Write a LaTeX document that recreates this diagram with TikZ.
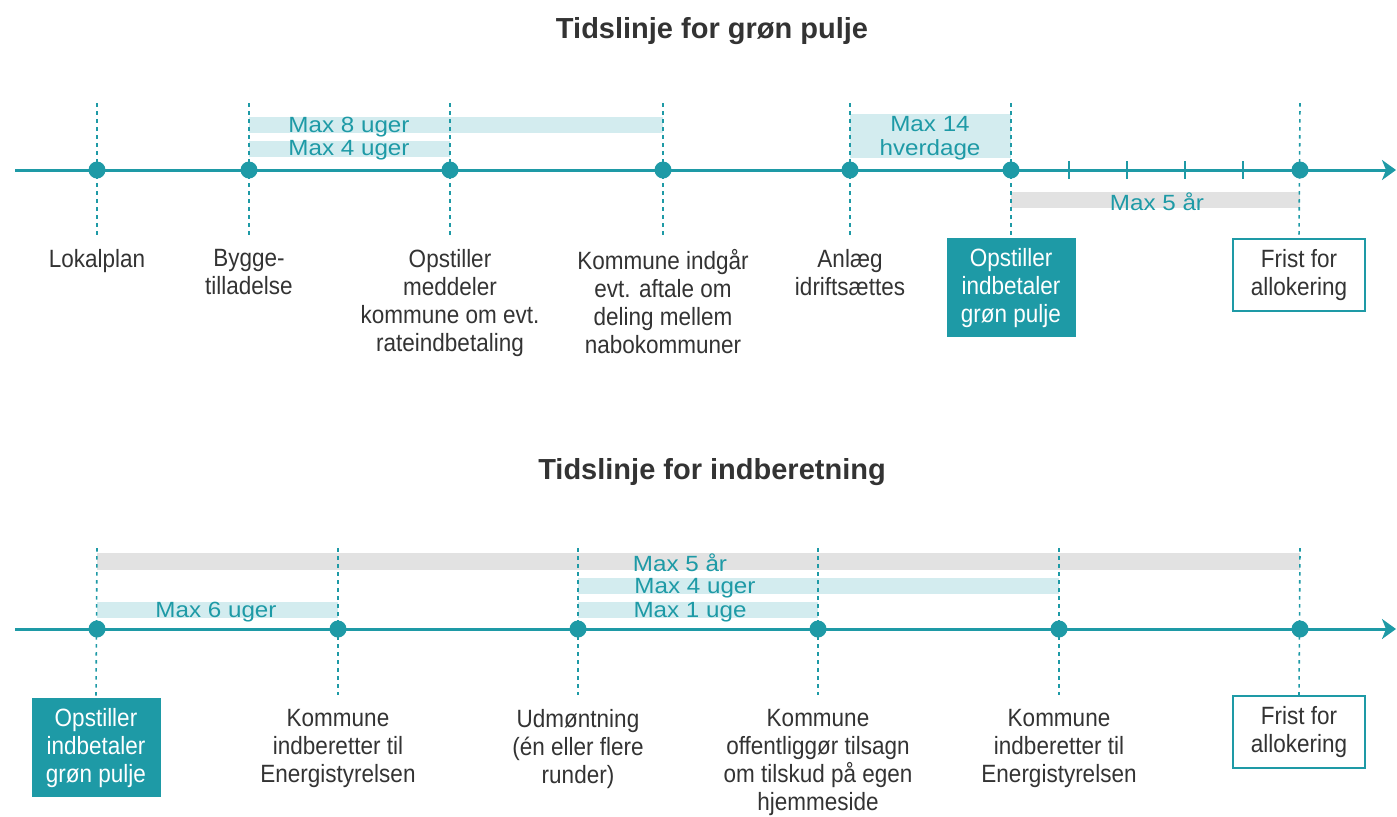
\documentclass[tikz,border=0pt]{standalone}
\usepackage{fontspec}
\setmainfont{Liberation Sans}
\newfontfamily\condfont[FakeStretch=0.9]{Liberation Sans}
\newfontfamily\widefont[FakeStretch=1.1]{Liberation Sans}
\usetikzlibrary{arrows.meta,positioning}
\definecolor{tlteal}{HTML}{1E9AA6}
\definecolor{tlbar}{HTML}{D3ECEF}
\definecolor{tlgray}{HTML}{E2E2E2}
\definecolor{tltext}{HTML}{333333}
\tikzset{
	x=0.5pt, y=-0.5pt,
	axis/.style ={draw=tlteal, line width=1.5pt, -{Stealth[length=7pt,width=10pt,inset=2pt]}},
	guide/.style ={draw=tlteal, line width=0.8pt, dash pattern=on 1.8pt off 2.2pt},
	dot/.style = {circle, fill=tlteal, inner sep=0pt, minimum size=8.5pt},
	yeartick/.style = {draw=tlteal, line width=0.9pt},
	span/.style = {fill=tlbar},
	longspan/.style = {fill=tlgray},
	spanlabel/.style = {text=tlteal, font=\widefont\fontsize{11}{12}\selectfont, inner sep=0pt, align=center},
	event/.style = {text=tltext, font=\condfont\fontsize{12.5}{14}\selectfont, inner sep=0pt, align=center, anchor=north},
	paybox/.style = {fill=tlteal, text=white, font=\condfont\fontsize{12.5}{14}\selectfont, align=center, inner sep=0pt, minimum width=64.5pt, minimum height=49.5pt, anchor=north},
	deadline/.style = {draw=tlteal, line width=1pt, fill=white, text=tltext, font=\condfont\fontsize{12.5}{14}\selectfont, align=center, inner sep=0pt, minimum width=66pt, minimum height=36pt, anchor=north},
	heading/.style = {text=tltext, font=\bfseries\fontsize{14.5}{18}\selectfont}
}
\begin{document}
\begin{tikzpicture}
    \useasboundingbox (0,0) rectangle (1397,816);

    % Tidslinje for grøn pulje
    \node[heading] (h1) at (712,31) {Tidslinje for grøn pulje};

    \fill[span] (249,117) rectangle (663,133);
    \fill[span] (249,141) rectangle (450,157);
    \fill[span] (850,114) rectangle (1011,158);
    \fill[longspan] (1011,192) rectangle (1300,208);

    \node[event] (l1) at (97,249) {Lokalplan};
    \node[event] (l2) at (249,249) {Bygge-\\tilladelse};
    \node[event] (l3) at (450,249) {Opstiller\\meddeler\\kommune om evt.\\rateindbetaling};
    \node[event] (l4) at (663,249) {Kommune indgår\\evt. aftale om\\deling mellem\\nabokommuner};
    \node[event] (l5) at (850,249) {Anlæg\\idriftsættes};
    \node[paybox] (l6) at (1011,238) {Opstiller\\indbetaler\\grøn pulje};
    \node[deadline] (l7) at (1299,238) {Frist for\\allokering};

    \coordinate (g1a) at (97,103);   \coordinate (g1b) at (97,235);
    \coordinate (g2a) at (249,103);  \coordinate (g2b) at (249,235);
    \coordinate (g3a) at (450,103);  \coordinate (g3b) at (450,235);
    \coordinate (g4a) at (663,103);  \coordinate (g4b) at (663,235);
    \coordinate (g5a) at (850,103);  \coordinate (g5b) at (850,235);
    \coordinate (g6a) at (1011,103);
    \coordinate (g7a) at (1300,103);
    \draw[guide] (g1a) -- (g1b);
    \draw[guide] (g2a) -- (g2b);
    \draw[guide] (g3a) -- (g3b);
    \draw[guide] (g4a) -- (g4b);
    \draw[guide] (g5a) -- (g5b);
    \draw[guide] (g6a) -- (l6.north);
    \draw[guide] (g7a) -- (l7.north);

    \coordinate (gs) at (15,170);
    \coordinate (ge) at (1396,170);
    \draw[axis] (gs) -- (ge);
    \foreach \x in {1069,1127,1185,1243}
        \draw[yeartick] (\x,161) -- (\x,179);

    \node[dot] (g1) at (97,170) {};
    \node[dot] (g2) at (249,170) {};
    \node[dot] (g3) at (450,170) {};
    \node[dot] (g4) at (663,170) {};
    \node[dot] (g5) at (850,170) {};
    \node[dot] (g6) at (1011,170) {};
    \node[dot] (g7) at (1300,170) {};

    \node[spanlabel] (s1) at (349,127) {Max 8 uger};
    \node[spanlabel] (s2) at (349,150) {Max 4 uger};
    \node[spanlabel] (s3) at (930,138) {Max 14\\hverdage};
    \node[spanlabel] (s4) at (1157,202) {Max 5 år};

    % Tidslinje for indberetning
    \node[heading] (h2) at (712,472) {Tidslinje for indberetning};

    \fill[longspan] (97,553) rectangle (1300,570);
    \fill[span] (578,578) rectangle (1059,594);
    \fill[span] (578,602) rectangle (818,618);
    \fill[span] (97,602) rectangle (338,618);

    \node[paybox] (m1) at (96,698) {Opstiller\\indbetaler\\grøn pulje};
    \node[event] (m2) at (338,709) {Kommune\\indberetter til\\Energistyrelsen};
    \node[event] (m3) at (578,709) {Udmøntning\\(én eller flere\\runder)};
    \node[event] (m4) at (818,709) {Kommune\\offentliggør tilsagn\\om tilskud på egen\\hjemmeside};
    \node[event] (m5) at (1059,709) {Kommune\\indberetter til\\Energistyrelsen};
    \node[deadline] (m6) at (1299,695) {Frist for\\allokering};

    \coordinate (i1a) at (97,548);
    \coordinate (i2a) at (338,548);  \coordinate (i2b) at (338,695);
    \coordinate (i3a) at (578,548);  \coordinate (i3b) at (578,695);
    \coordinate (i4a) at (818,548);  \coordinate (i4b) at (818,695);
    \coordinate (i5a) at (1059,548); \coordinate (i5b) at (1059,695);
    \coordinate (i6a) at (1300,548);
    \draw[guide] (i1a) -- (m1.north);
    \draw[guide] (i2a) -- (i2b);
    \draw[guide] (i3a) -- (i3b);
    \draw[guide] (i4a) -- (i4b);
    \draw[guide] (i5a) -- (i5b);
    \draw[guide] (i6a) -- (m6.north);

    \coordinate (is) at (15,629);
    \coordinate (ie) at (1396,629);
    \draw[axis] (is) -- (ie);

    \node[dot] (i1) at (97,629) {};
    \node[dot] (i2) at (338,629) {};
    \node[dot] (i3) at (578,629) {};
    \node[dot] (i4) at (818,629) {};
    \node[dot] (i5) at (1059,629) {};
    \node[dot] (i6) at (1300,629) {};

    \node[spanlabel] (t1) at (680,563) {Max 5 år};
    \node[spanlabel] (t2) at (695,588) {Max 4 uger};
    \node[spanlabel] (t3) at (690,612) {Max 1 uge};
    \node[spanlabel] (t4) at (216,612) {Max 6 uger};

\end{tikzpicture}
\end{document}
